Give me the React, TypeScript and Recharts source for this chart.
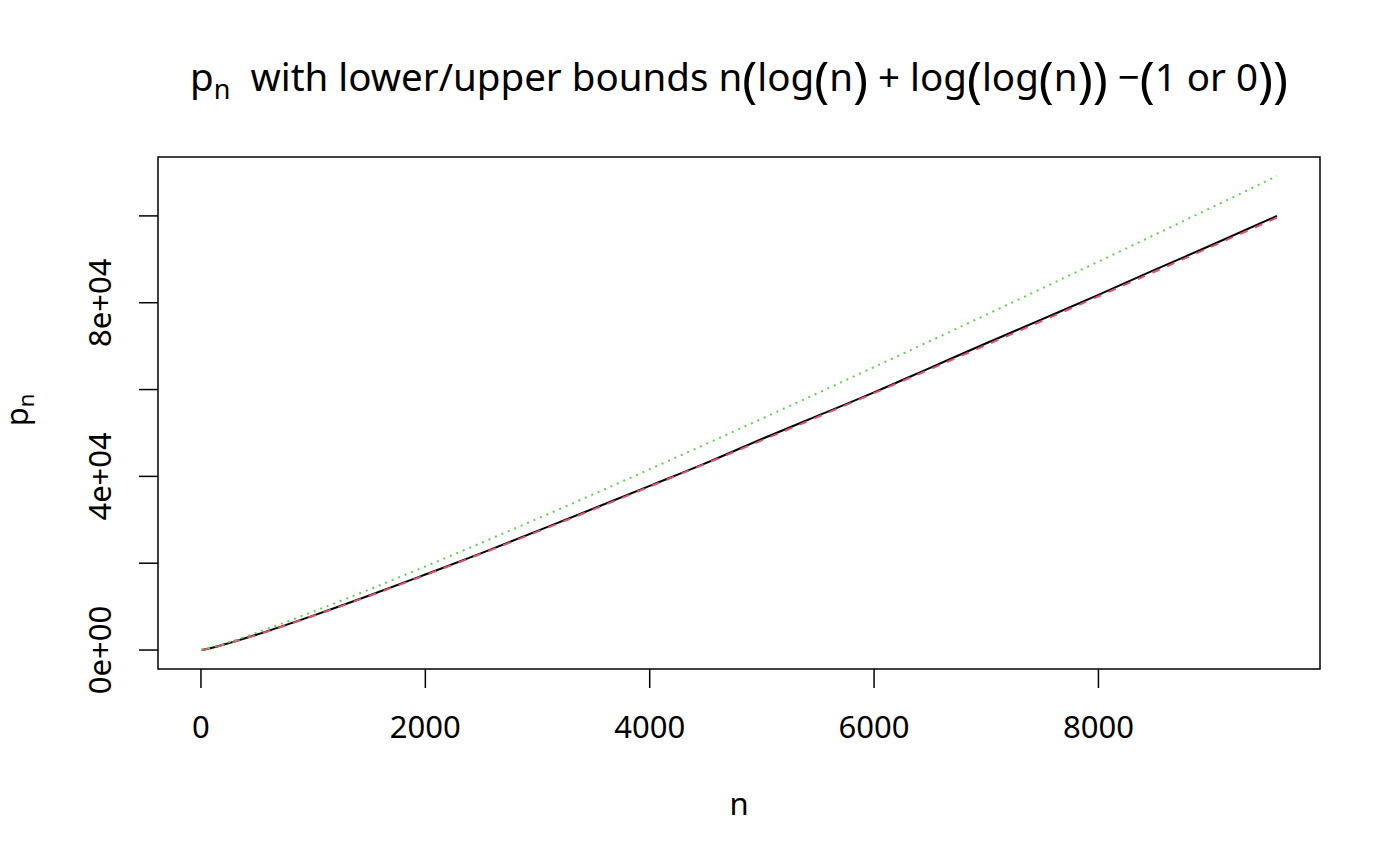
import React from 'react';
import { LineChart, Line, XAxis, YAxis, ReferenceArea } from 'recharts';

// n, p_n and the two bounds n(log n + log log n - 1) / n(log n + log log n)
const nValues = [2, 100, 250, 500, 1000, 1500, 2000, 2500, 3000, 3500, 4000, 4500, 5000, 5500, 6000, 6500, 7000, 7500, 8000, 8500, 9000, 9592];
const primes = [3, 541, 1583, 3571, 7919, 12553, 17389, 22307, 27449, 32609, 37813, 43051, 48611, 53987, 59359, 65003, 70657, 76207, 81799, 87553, 93179, 99991];
const lowerBound = [-1, 513, 1558, 3521, 7840, 12454, 17258, 22203, 27260, 32409, 37638, 42936, 48296, 53711, 59177, 64688, 70242, 75835, 81464, 87128, 92824, 99608];
const upperBound = [1, 613, 1808, 4021, 8840, 13954, 19258, 24703, 30260, 35909, 41638, 47436, 53296, 59211, 65177, 71188, 77242, 83335, 89464, 95628, 101824, 109200];

const xTicks = [0, 2000, 4000, 6000, 8000];
const yTicks = [0, 20000, 40000, 60000, 80000, 100000];
const yTickLabels: Record<number, string> = { 0: '0e+00', 40000: '4e+04', 80000: '8e+04' };

const xDomain = [-383, 9975];
const yDomain = [-4370, 113568];

const data = nValues.map((n, i) => ({
  n,
  p: primes[i],
  lower: lowerBound[i],
  upper: upperBound[i],
}));

const FONT = '"Noto Sans", "Open Sans", sans-serif';

// title pieces; "P" marks the taller plotmath parentheses
const titleMath: [string, string][] = [
  ['t', 'n'], ['P', '('], ['t', 'log'], ['P', '('], ['t', 'n'], ['P', ')'],
  ['t', ' + '], ['t', 'log'], ['P', '('], ['t', 'log'], ['P', '('], ['t', 'n'], ['P', ')'], ['P', ')'],
  ['t', ' \u2212'], ['P', '('], ['t', '1 or 0'], ['P', ')'], ['P', ')'],
];

const XTick = (props: any) => {
  const { x, y, payload } = props;
  return (
    <text x={x} y={y + 48} textAnchor="middle" fontSize={31} fontFamily={FONT} fill="#000">
      {payload.value}
    </text>
  );
};

const YTick = (props: any) => {
  const { x, y, payload } = props;
  const label = yTickLabels[payload.value];
  if (!label) return <g />;
  const cx = x - 37;
  return (
    <text
      x={cx}
      y={y}
      dy="0.36em"
      transform={`rotate(-90, ${cx}, ${y})`}
      textAnchor="middle"
      fontSize={31}
      fontFamily={FONT}
      fill="#000"
    >
      {label}
    </text>
  );
};

const renderMath = () => {
  const out: React.ReactNode[] = [];
  let shifted = false;
  titleMath.forEach(([kind, s], i) => {
    if (kind === 'P') {
      out.push(
        <tspan key={i} fontSize={50} dy={shifted ? 0 : 6}>
          {s}
        </tspan>
      );
      shifted = true;
    } else {
      out.push(
        <tspan key={i} dy={shifted ? -6 : 0}>
          {s}
        </tspan>
      );
      shifted = false;
    }
  });
  return out;
};

const App: React.FC = () => {
  return (
    <div style={{ position: 'absolute', left: 0, top: 0, width: 1400, height: 866, background: '#fff' }}>
      <LineChart
        width={1400}
        height={866}
        data={data}
        margin={{ top: 157, right: 80, left: 0, bottom: 0 }}
      >
        <XAxis
          dataKey="n"
          type="number"
          domain={xDomain}
          ticks={xTicks}
          allowDataOverflow
          axisLine={false}
          tickSize={19}
          tickLine={{ stroke: '#000', strokeWidth: 1.5 }}
          tick={<XTick />}
          height={197}
        />
        <YAxis
          type="number"
          domain={yDomain}
          ticks={yTicks}
          allowDataOverflow
          axisLine={false}
          tickSize={19}
          tickLine={{ stroke: '#000', strokeWidth: 1.5 }}
          tick={<YTick />}
          width={158}
        />
        <Line
          dataKey="p"
          type="monotone"
          stroke="#000"
          strokeWidth={2}
          dot={false}
          isAnimationActive={false}
        />
        <Line
          dataKey="lower"
          type="monotone"
          stroke="#DF536B"
          strokeWidth={2}
          strokeDasharray="8 8"
          dot={false}
          isAnimationActive={false}
        />
        <Line
          dataKey="upper"
          type="monotone"
          stroke="#61D04F"
          strokeWidth={2}
          strokeDasharray="2 5"
          dot={false}
          isAnimationActive={false}
        />
        <ReferenceArea
          x1={xDomain[0]}
          x2={xDomain[1]}
          y1={yDomain[0]}
          y2={yDomain[1]}
          fill="none"
          fillOpacity={0}
          stroke="#000"
          strokeWidth={1.5}
          ifOverflow="visible"
        />
      </LineChart>
      <svg
        width={1400}
        height={866}
        style={{ position: 'absolute', left: 0, top: 0, pointerEvents: 'none' }}
      >
        <text
          x={739}
          y={91}
          textAnchor="middle"
          fontSize={38.5}
          fontFamily={FONT}
          fill="#000"
          style={{ whiteSpace: 'pre' }}
        >
          <tspan>p</tspan>
          <tspan fontSize={27} dy={8}>n</tspan>
          <tspan dy={-8}>{'  with lower/upper bounds '}</tspan>
          {renderMath()}
        </text>
        <text x={739} y={815} textAnchor="middle" fontSize={31} fontFamily={FONT} fill="#000">
          n
        </text>
        <text
          x={28}
          y={410}
          transform="rotate(-90, 28, 410)"
          textAnchor="middle"
          fontSize={31}
          fontFamily={FONT}
          fill="#000"
        >
          <tspan>p</tspan>
          <tspan fontSize={22} dy={6}>n</tspan>
        </text>
      </svg>
    </div>
  );
};

export default App;
